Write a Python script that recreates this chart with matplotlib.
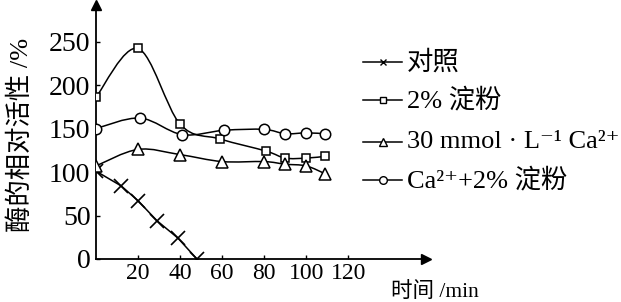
import numpy as np
import matplotlib
matplotlib.use("Agg")
import matplotlib.pyplot as plt
from matplotlib.path import Path
from matplotlib.patches import PathPatch
from matplotlib.lines import Line2D

plt.rcParams['font.family'] = ['Liberation Serif', 'Noto Sans CJK SC', 'DejaVu Serif']

# data
ctrl_x = [0, 12, 20, 29, 39, 48]
ctrl_y = [101, 84, 67, 44, 24, 0]

starch_x = [0, 20, 40, 59, 81, 90, 100, 109]
starch_y = [186, 242, 155, 138, 124, 116, 116, 118]

ca_x = [0, 20, 40, 60, 80, 90, 100, 109]
ca_y = [107, 126, 120, 112, 112, 109, 107, 98]

ca_starch_x = [0, 21, 41, 61, 80, 90, 100, 109]
ca_starch_y = [150, 162, 143, 148, 149, 144, 145, 144]

labels = ["对照", "2% 淀粉", "30 mmol · L⁻¹ Ca²⁺", "Ca²⁺+2% 淀粉"]
x_ticks = [20, 40, 60, 80, 100, 120]
y_ticks = [0, 50, 100, 150, 200, 250]


def smooth_path(xs, ys):
    # Catmull-Rom through the points, drawn as cubic bezier segments
    p = np.column_stack([xs, ys]).astype(float)
    verts = [p[0]]
    codes = [Path.MOVETO]
    n = len(p)
    for i in range(n - 1):
        p0 = p[i - 1] if i > 0 else p[i]
        p3 = p[i + 2] if i + 2 < n else p[i + 1]
        c1 = p[i] + (p[i + 1] - p0) / 6
        c2 = p[i + 1] - (p3 - p[i]) / 6
        verts += [c1, c2, p[i + 1]]
        codes += [Path.CURVE4] * 3
    return Path(verts, codes)


fig = plt.figure(figsize=(6.21, 3.02), dpi=100)
ax = fig.add_axes([96 / 621, 43 / 302, 330 / 621, 254 / 302])

lw = 1.1
ax.plot(ctrl_x, ctrl_y, color="black", lw=lw, marker="x", ms=9.5, mew=1.2, zorder=3)
for xs, ys in [(starch_x, starch_y), (ca_x, ca_y), (ca_starch_x, ca_starch_y)]:
    ax.add_patch(PathPatch(smooth_path(xs, ys), facecolor="none", edgecolor="black", lw=lw, zorder=2))

ax.plot(starch_x, starch_y, ls="none", marker="s", ms=6, mfc="white", mec="black", mew=1.1, zorder=4)
ax.plot(ca_x, ca_y, ls="none", marker="^", ms=9, mfc="white", mec="black", mew=1.1, zorder=4)
ax.plot(ca_starch_x, ca_starch_y, ls="none", marker="o", ms=7.5, mfc="white", mec="black", mew=1.1, zorder=4)

ax.set_xlim(0, 157)
ax.set_ylim(0, 292)
for s in ["top", "right"]:
    ax.spines[s].set_visible(False)
for s in ["left", "bottom"]:
    ax.spines[s].set_linewidth(1.3)

# arrow heads on the axes
ax.plot(1, 0, marker=">", ms=7, color="black", transform=ax.transAxes, clip_on=False)
ax.plot(0, 1, marker="^", ms=7, color="black", transform=ax.transAxes, clip_on=False)

ax.set_xticks(x_ticks)
ax.set_yticks(y_ticks)
ax.tick_params(axis="x", direction="in", length=3, width=1, labelsize=17, pad=3)
ax.tick_params(axis="y", direction="in", length=3, width=1, labelsize=20, pad=4)

ax.set_ylabel("酶的相对活性 /%", fontsize=19)
ax.yaxis.set_label_coords(-0.19, 0.488)
ax.set_xlabel("时间 /min", fontsize=15.5, ha="left", va="center")
ax.xaxis.set_label_coords(0.893, -0.13)

# legend drawn by hand
legend_markers = [("x", 5), ("s", 4.5), ("^", 6), ("o", 5.5)]
rows_y = [62, 100, 142, 180]
for (m, ms), lab, yy in zip(legend_markers, labels, rows_y):
    yf = 1 - yy / 302
    fig.add_artist(Line2D([363 / 621, 382.5 / 621, 402 / 621], [yf, yf, yf], transform=fig.transFigure,
                          color="black", lw=1.1, marker=m, ms=ms, mfc="white", mec="black",
                          mew=1, markevery=[1]))
    fig.text(407 / 621, yf, lab, fontsize=19, va="center", ha="left")

fig.savefig("out.png", dpi=100)
